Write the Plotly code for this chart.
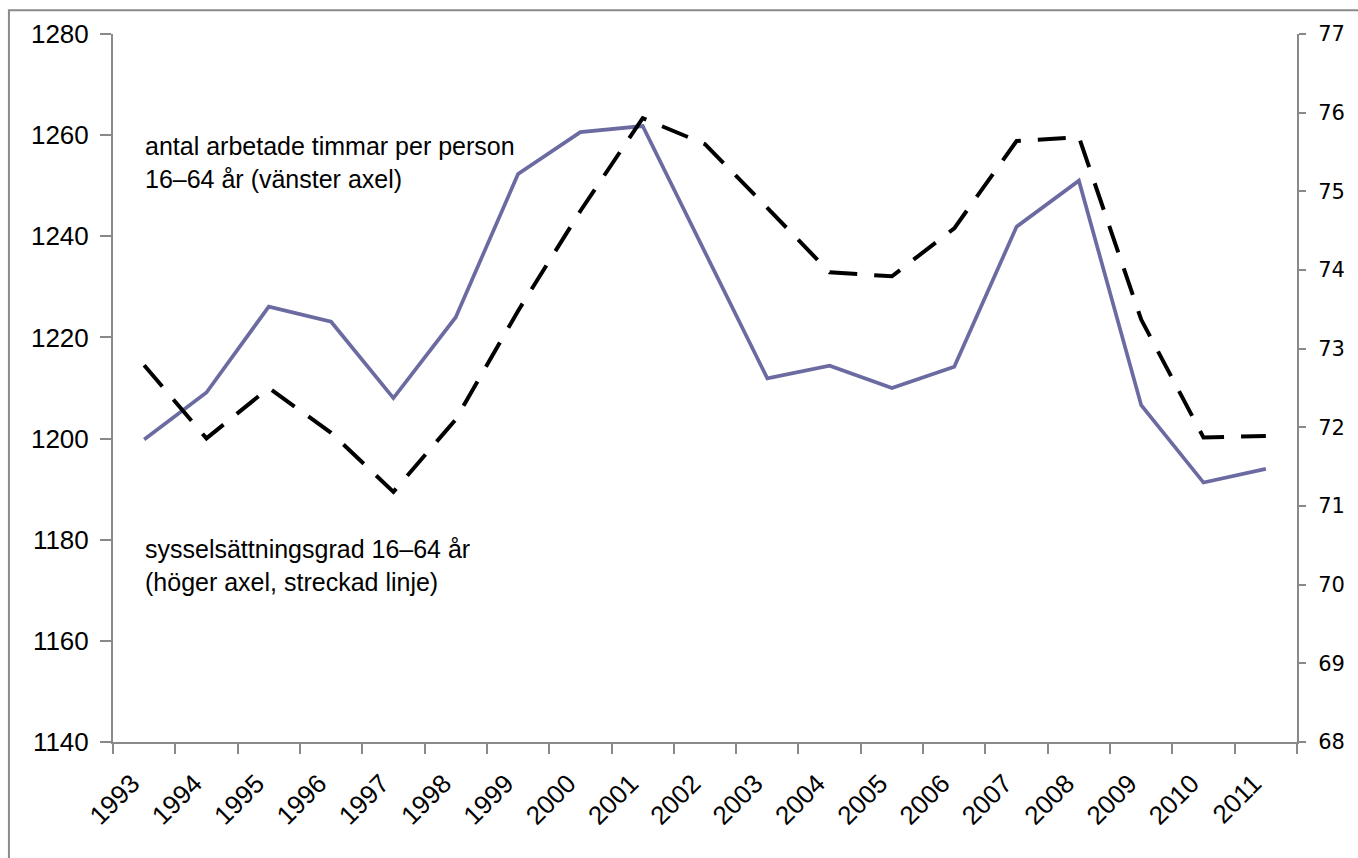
import plotly.graph_objects as go

years = [str(y) for y in range(1993, 2012)]
hours = [1199.8, 1209.1, 1226.1, 1223.1, 1208.0, 1224.0, 1252.3, 1260.6, 1261.8, 1236.9,
         1211.9, 1214.4, 1210.0, 1214.2, 1241.9, 1251.0, 1206.6, 1191.3, 1194.0]
rate = [72.79, 71.86, 72.50, 71.93, 71.18, 72.10, 73.48, 74.75, 75.93, 75.60,
        74.79, 73.97, 73.92, 74.53, 75.64, 75.69, 73.37, 71.87, 71.89]

left_ticks = list(range(1140, 1281, 20))
right_ticks = list(range(68, 78))

label_hours = "antal arbetade timmar per person<br>16–64 år (vänster axel)"
label_rate = "sysselsättningsgrad 16–64 år<br>(höger axel, streckad linje)"

AX = "#898989"
FONT = "Liberation Sans, Arial, sans-serif"

fig = go.Figure()
fig.add_trace(go.Scatter(x=years, y=hours, mode="lines", yaxis="y",
                         line=dict(color="#6B6BA2", width=3.7), showlegend=False))
fig.add_trace(go.Scatter(x=years, y=rate, mode="lines", yaxis="y2",
                         line=dict(color="#000000", width=4, dash="28px,17px"),
                         showlegend=False))

fig.update_layout(
    width=1358, height=858,
    margin=dict(l=113, r=61, t=34, b=116),
    paper_bgcolor="white", plot_bgcolor="white",
    font=dict(family=FONT, color="black"),
    xaxis=dict(type="category", range=[-0.5, 18.5], tickson="boundaries",
               ticks="outside", ticklen=10, tickwidth=2, tickcolor=AX,
               tickangle=-45, showline=True, linecolor=AX, linewidth=2,
               showgrid=False, zeroline=False, tickfont=dict(size=26, family=FONT),
               ticklabelstandoff=14, ticklabelshift=-12),
    yaxis=dict(range=[1140, 1280], tickvals=left_ticks, ticks="outside", ticklen=11,
               tickwidth=2, tickcolor=AX, showline=True, linecolor=AX, linewidth=2,
               showgrid=False, zeroline=False, tickfont=dict(size=26, family=FONT),
               ticklabelstandoff=6),
    yaxis2=dict(range=[68, 77], tickvals=right_ticks, overlaying="y", side="right",
                ticks="outside", ticklen=7, tickwidth=2, tickcolor=AX, showline=True,
                linecolor=AX, linewidth=2, showgrid=False, zeroline=False,
                tickfont=dict(size=21, family="DejaVu Sans, Verdana, sans-serif"),
                ticklabelstandoff=8),
    annotations=[
        dict(text=label_hours, xref="paper", yref="paper", x=0.0250, y=0.8188,
             xanchor="left", yanchor="middle", align="left", showarrow=False,
             font=dict(size=25, family=FONT)),
        dict(text=label_rate, xref="paper", yref="paper", x=0.0250, y=0.2494,
             xanchor="left", yanchor="middle", align="left", showarrow=False,
             font=dict(size=25, family=FONT)),
    ],
    shapes=[dict(type="rect", xref="paper", yref="paper", x0=-0.0879, x1=1.2,
                 y0=-0.4, y1=1.0334, line=dict(color="#8A8A8A", width=2),
                 fillcolor="rgba(0,0,0,0)", layer="below")],
)

fig.write_html("out.html", config={"displayModeBar": False},
               post_script="document.body.style.margin='0';")
